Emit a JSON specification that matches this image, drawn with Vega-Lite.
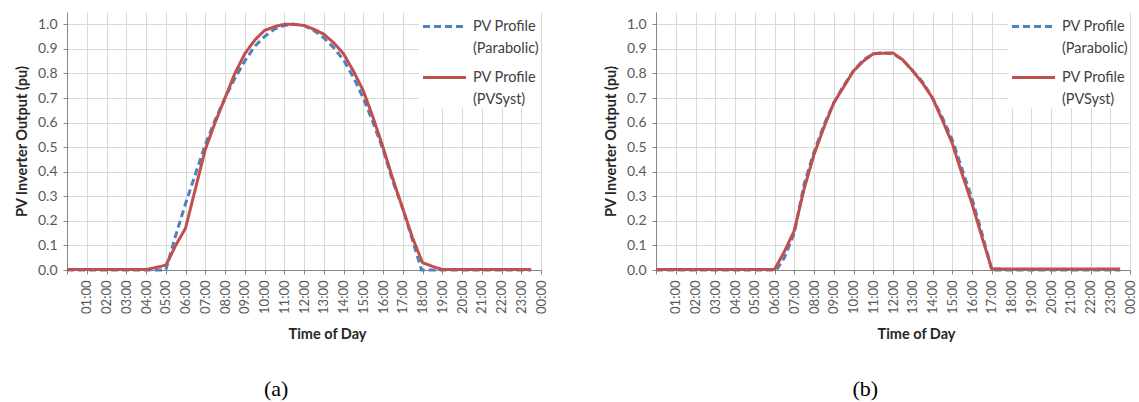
{
  "$schema": "https://vega.github.io/schema/vega-lite/v6.json",
  "background": "white",
  "padding": {"left": 14, "top": 12, "right": 3, "bottom": 3},
  "spacing": 54,
  "datasets": {
    "pv": [
      {"panel": "a", "series": "Parabolic", "hour": 0, "pu": 0},
      {"panel": "a", "series": "Parabolic", "hour": 1, "pu": 0},
      {"panel": "a", "series": "Parabolic", "hour": 2, "pu": 0},
      {"panel": "a", "series": "Parabolic", "hour": 3, "pu": 0},
      {"panel": "a", "series": "Parabolic", "hour": 4, "pu": 0},
      {"panel": "a", "series": "Parabolic", "hour": 5, "pu": 0},
      {"panel": "a", "series": "Parabolic", "hour": 5.5, "pu": 0.14},
      {"panel": "a", "series": "Parabolic", "hour": 6, "pu": 0.27},
      {"panel": "a", "series": "Parabolic", "hour": 6.5, "pu": 0.39},
      {"panel": "a", "series": "Parabolic", "hour": 7, "pu": 0.51},
      {"panel": "a", "series": "Parabolic", "hour": 7.5, "pu": 0.61},
      {"panel": "a", "series": "Parabolic", "hour": 8, "pu": 0.7},
      {"panel": "a", "series": "Parabolic", "hour": 8.5, "pu": 0.78},
      {"panel": "a", "series": "Parabolic", "hour": 9, "pu": 0.85},
      {"panel": "a", "series": "Parabolic", "hour": 9.5, "pu": 0.91},
      {"panel": "a", "series": "Parabolic", "hour": 10, "pu": 0.95},
      {"panel": "a", "series": "Parabolic", "hour": 10.5, "pu": 0.98},
      {"panel": "a", "series": "Parabolic", "hour": 11, "pu": 0.995},
      {"panel": "a", "series": "Parabolic", "hour": 11.5, "pu": 1.0},
      {"panel": "a", "series": "Parabolic", "hour": 12, "pu": 0.995},
      {"panel": "a", "series": "Parabolic", "hour": 12.5, "pu": 0.975},
      {"panel": "a", "series": "Parabolic", "hour": 13, "pu": 0.945},
      {"panel": "a", "series": "Parabolic", "hour": 13.5, "pu": 0.905},
      {"panel": "a", "series": "Parabolic", "hour": 14, "pu": 0.855},
      {"panel": "a", "series": "Parabolic", "hour": 14.5, "pu": 0.785},
      {"panel": "a", "series": "Parabolic", "hour": 15, "pu": 0.7},
      {"panel": "a", "series": "Parabolic", "hour": 15.5, "pu": 0.6},
      {"panel": "a", "series": "Parabolic", "hour": 16, "pu": 0.49},
      {"panel": "a", "series": "Parabolic", "hour": 16.5, "pu": 0.36},
      {"panel": "a", "series": "Parabolic", "hour": 17, "pu": 0.25},
      {"panel": "a", "series": "Parabolic", "hour": 17.5, "pu": 0.12},
      {"panel": "a", "series": "Parabolic", "hour": 17.95, "pu": 0},
      {"panel": "a", "series": "Parabolic", "hour": 19, "pu": 0},
      {"panel": "a", "series": "Parabolic", "hour": 20, "pu": 0},
      {"panel": "a", "series": "Parabolic", "hour": 21, "pu": 0},
      {"panel": "a", "series": "Parabolic", "hour": 22, "pu": 0},
      {"panel": "a", "series": "Parabolic", "hour": 23, "pu": 0},
      {"panel": "a", "series": "Parabolic", "hour": 23.5, "pu": 0},

      {"panel": "a", "series": "PVSyst", "hour": 0, "pu": 0.002},
      {"panel": "a", "series": "PVSyst", "hour": 1, "pu": 0.002},
      {"panel": "a", "series": "PVSyst", "hour": 2, "pu": 0.002},
      {"panel": "a", "series": "PVSyst", "hour": 3, "pu": 0.002},
      {"panel": "a", "series": "PVSyst", "hour": 4, "pu": 0.002},
      {"panel": "a", "series": "PVSyst", "hour": 4.5, "pu": 0.01},
      {"panel": "a", "series": "PVSyst", "hour": 5, "pu": 0.02},
      {"panel": "a", "series": "PVSyst", "hour": 5.17, "pu": 0.045},
      {"panel": "a", "series": "PVSyst", "hour": 5.5, "pu": 0.1},
      {"panel": "a", "series": "PVSyst", "hour": 6, "pu": 0.17},
      {"panel": "a", "series": "PVSyst", "hour": 6.5, "pu": 0.33},
      {"panel": "a", "series": "PVSyst", "hour": 7, "pu": 0.49},
      {"panel": "a", "series": "PVSyst", "hour": 7.5, "pu": 0.6},
      {"panel": "a", "series": "PVSyst", "hour": 8, "pu": 0.7},
      {"panel": "a", "series": "PVSyst", "hour": 8.5, "pu": 0.8},
      {"panel": "a", "series": "PVSyst", "hour": 9, "pu": 0.88},
      {"panel": "a", "series": "PVSyst", "hour": 9.5, "pu": 0.935},
      {"panel": "a", "series": "PVSyst", "hour": 10, "pu": 0.975},
      {"panel": "a", "series": "PVSyst", "hour": 10.5, "pu": 0.99},
      {"panel": "a", "series": "PVSyst", "hour": 11, "pu": 1.0},
      {"panel": "a", "series": "PVSyst", "hour": 11.5, "pu": 1.0},
      {"panel": "a", "series": "PVSyst", "hour": 12, "pu": 0.995},
      {"panel": "a", "series": "PVSyst", "hour": 12.5, "pu": 0.98},
      {"panel": "a", "series": "PVSyst", "hour": 13, "pu": 0.96},
      {"panel": "a", "series": "PVSyst", "hour": 13.5, "pu": 0.925},
      {"panel": "a", "series": "PVSyst", "hour": 14, "pu": 0.88},
      {"panel": "a", "series": "PVSyst", "hour": 14.5, "pu": 0.81},
      {"panel": "a", "series": "PVSyst", "hour": 15, "pu": 0.73},
      {"panel": "a", "series": "PVSyst", "hour": 15.5, "pu": 0.62},
      {"panel": "a", "series": "PVSyst", "hour": 16, "pu": 0.5},
      {"panel": "a", "series": "PVSyst", "hour": 16.5, "pu": 0.37},
      {"panel": "a", "series": "PVSyst", "hour": 17, "pu": 0.25},
      {"panel": "a", "series": "PVSyst", "hour": 17.5, "pu": 0.13},
      {"panel": "a", "series": "PVSyst", "hour": 18, "pu": 0.03},
      {"panel": "a", "series": "PVSyst", "hour": 18.5, "pu": 0.015},
      {"panel": "a", "series": "PVSyst", "hour": 19, "pu": 0.002},
      {"panel": "a", "series": "PVSyst", "hour": 20, "pu": 0.002},
      {"panel": "a", "series": "PVSyst", "hour": 21, "pu": 0.002},
      {"panel": "a", "series": "PVSyst", "hour": 22, "pu": 0.002},
      {"panel": "a", "series": "PVSyst", "hour": 23, "pu": 0.002},
      {"panel": "a", "series": "PVSyst", "hour": 23.5, "pu": 0.002},

      {"panel": "b", "series": "Parabolic", "hour": 0, "pu": 0},
      {"panel": "b", "series": "Parabolic", "hour": 1, "pu": 0},
      {"panel": "b", "series": "Parabolic", "hour": 2, "pu": 0},
      {"panel": "b", "series": "Parabolic", "hour": 3, "pu": 0},
      {"panel": "b", "series": "Parabolic", "hour": 4, "pu": 0},
      {"panel": "b", "series": "Parabolic", "hour": 5, "pu": 0},
      {"panel": "b", "series": "Parabolic", "hour": 6, "pu": 0},
      {"panel": "b", "series": "Parabolic", "hour": 6.1, "pu": 0},
      {"panel": "b", "series": "Parabolic", "hour": 6.5, "pu": 0.05},
      {"panel": "b", "series": "Parabolic", "hour": 7, "pu": 0.15},
      {"panel": "b", "series": "Parabolic", "hour": 7.5, "pu": 0.35},
      {"panel": "b", "series": "Parabolic", "hour": 8, "pu": 0.48},
      {"panel": "b", "series": "Parabolic", "hour": 8.5, "pu": 0.59},
      {"panel": "b", "series": "Parabolic", "hour": 9, "pu": 0.68},
      {"panel": "b", "series": "Parabolic", "hour": 9.5, "pu": 0.75},
      {"panel": "b", "series": "Parabolic", "hour": 10, "pu": 0.81},
      {"panel": "b", "series": "Parabolic", "hour": 10.5, "pu": 0.855},
      {"panel": "b", "series": "Parabolic", "hour": 11, "pu": 0.88},
      {"panel": "b", "series": "Parabolic", "hour": 11.5, "pu": 0.885},
      {"panel": "b", "series": "Parabolic", "hour": 12, "pu": 0.88},
      {"panel": "b", "series": "Parabolic", "hour": 12.5, "pu": 0.855},
      {"panel": "b", "series": "Parabolic", "hour": 13, "pu": 0.81},
      {"panel": "b", "series": "Parabolic", "hour": 13.5, "pu": 0.765},
      {"panel": "b", "series": "Parabolic", "hour": 14, "pu": 0.7},
      {"panel": "b", "series": "Parabolic", "hour": 14.5, "pu": 0.62},
      {"panel": "b", "series": "Parabolic", "hour": 15, "pu": 0.53},
      {"panel": "b", "series": "Parabolic", "hour": 15.5, "pu": 0.41},
      {"panel": "b", "series": "Parabolic", "hour": 16, "pu": 0.29},
      {"panel": "b", "series": "Parabolic", "hour": 16.5, "pu": 0.15},
      {"panel": "b", "series": "Parabolic", "hour": 17, "pu": 0},
      {"panel": "b", "series": "Parabolic", "hour": 18, "pu": 0},
      {"panel": "b", "series": "Parabolic", "hour": 19, "pu": 0},
      {"panel": "b", "series": "Parabolic", "hour": 20, "pu": 0},
      {"panel": "b", "series": "Parabolic", "hour": 21, "pu": 0},
      {"panel": "b", "series": "Parabolic", "hour": 22, "pu": 0},
      {"panel": "b", "series": "Parabolic", "hour": 23, "pu": 0},
      {"panel": "b", "series": "Parabolic", "hour": 23.5, "pu": 0},

      {"panel": "b", "series": "PVSyst", "hour": 0, "pu": 0.002},
      {"panel": "b", "series": "PVSyst", "hour": 1, "pu": 0.002},
      {"panel": "b", "series": "PVSyst", "hour": 2, "pu": 0.002},
      {"panel": "b", "series": "PVSyst", "hour": 3, "pu": 0.002},
      {"panel": "b", "series": "PVSyst", "hour": 4, "pu": 0.002},
      {"panel": "b", "series": "PVSyst", "hour": 5, "pu": 0.002},
      {"panel": "b", "series": "PVSyst", "hour": 6, "pu": 0.002},
      {"panel": "b", "series": "PVSyst", "hour": 6.5, "pu": 0.075},
      {"panel": "b", "series": "PVSyst", "hour": 7, "pu": 0.16},
      {"panel": "b", "series": "PVSyst", "hour": 7.5, "pu": 0.33},
      {"panel": "b", "series": "PVSyst", "hour": 8, "pu": 0.47},
      {"panel": "b", "series": "PVSyst", "hour": 8.5, "pu": 0.58},
      {"panel": "b", "series": "PVSyst", "hour": 9, "pu": 0.68},
      {"panel": "b", "series": "PVSyst", "hour": 9.5, "pu": 0.745},
      {"panel": "b", "series": "PVSyst", "hour": 10, "pu": 0.81},
      {"panel": "b", "series": "PVSyst", "hour": 10.5, "pu": 0.85},
      {"panel": "b", "series": "PVSyst", "hour": 11, "pu": 0.88},
      {"panel": "b", "series": "PVSyst", "hour": 11.5, "pu": 0.882},
      {"panel": "b", "series": "PVSyst", "hour": 12, "pu": 0.883},
      {"panel": "b", "series": "PVSyst", "hour": 12.5, "pu": 0.855},
      {"panel": "b", "series": "PVSyst", "hour": 13, "pu": 0.81},
      {"panel": "b", "series": "PVSyst", "hour": 13.5, "pu": 0.76},
      {"panel": "b", "series": "PVSyst", "hour": 14, "pu": 0.7},
      {"panel": "b", "series": "PVSyst", "hour": 14.5, "pu": 0.61},
      {"panel": "b", "series": "PVSyst", "hour": 15, "pu": 0.515},
      {"panel": "b", "series": "PVSyst", "hour": 15.5, "pu": 0.39},
      {"panel": "b", "series": "PVSyst", "hour": 16, "pu": 0.27},
      {"panel": "b", "series": "PVSyst", "hour": 16.5, "pu": 0.135},
      {"panel": "b", "series": "PVSyst", "hour": 17, "pu": 0.005},
      {"panel": "b", "series": "PVSyst", "hour": 18, "pu": 0.004},
      {"panel": "b", "series": "PVSyst", "hour": 19, "pu": 0.004},
      {"panel": "b", "series": "PVSyst", "hour": 20, "pu": 0.004},
      {"panel": "b", "series": "PVSyst", "hour": 21, "pu": 0.004},
      {"panel": "b", "series": "PVSyst", "hour": 22, "pu": 0.004},
      {"panel": "b", "series": "PVSyst", "hour": 23, "pu": 0.004},
      {"panel": "b", "series": "PVSyst", "hour": 23.5, "pu": 0.004}
    ]
  },
  "config": {
    "font": "Lato",
    "view": {"stroke": null},
    "style": {"guide-label": {"lineHeight": 22}},
    "axis": {
      "labelFont": "Lato",
      "labelColor": "#595959",
      "titleFont": "Lato",
      "titleColor": "#262626",
      "titleFontWeight": "bold",
      "titleFontSize": 14.5,
      "gridColor": "#D9D9D9",
      "gridWidth": 1,
      "domainColor": "#868686",
      "tickColor": "#868686",
      "tickSize": 4
    },
    "legend": {
      "orient": "top-right",
      "offset": 0,
      "fillColor": "white",
      "padding": 2,
      "symbolType": "M-2,0H2",
      "symbolSize": 462,
      "symbolStrokeWidth": 3,
      "symbolOffset": 11,
      "labelFont": "Lato",
      "labelFontSize": 14.5,
      "labelColor": "#404040",
      "labelOffset": 16,
      "labelLimit": 200,
      "labelBaseline": "middle",
      "rowPadding": 10
    },
    "title": {
      "font": "Liberation Serif",
      "fontSize": 22,
      "fontWeight": "normal",
      "color": "black",
      "orient": "bottom",
      "anchor": "middle",
      "frame": "bounds",
      "offset": 38,
      "dx": -5
    }
  },
  "resolve": {
    "scale": {"color": "independent", "strokeDash": "independent"},
    "legend": {"color": "independent", "strokeDash": "independent"}
  },
  "hconcat": [
    {
      "width": 474,
      "height": 258,
      "title": {"text": "(a)"},
      "data": {"name": "pv"},
      "transform": [{"filter": "datum.panel == 'a'"}],
      "encoding": {
        "x": {
          "field": "hour", "type": "quantitative",
          "scale": {"domain": [0, 24], "nice": false, "zero": false},
          "axis": {
            "title": "Time of Day", "titleX": 260, "titlePadding": 14,
            "values": [0,1,2,3,4,5,6,7,8,9,10,11,12,13,14,15,16,17,18,19,20,21,22,23,24],
            "labelAngle": 270, "labelFontSize": 13, "labelPadding": 6,
            "labelExpr": "datum.value == 0 ? '' : ((datum.value % 24) < 10 ? '0' : '') + (datum.value % 24) + ':00'"
          }
        },
        "y": {
          "field": "pu", "type": "quantitative",
          "scale": {"domain": [0, 1.05], "nice": false},
          "axis": {
            "title": "PV Inverter Output (pu)", "titlePadding": 8,
            "values": [0,0.1,0.2,0.3,0.4,0.5,0.6,0.7,0.8,0.9,1.0],
            "format": ".1f", "labelFontSize": 14, "labelPadding": 6
          }
        },
        "color": {
          "field": "series", "type": "nominal",
          "scale": {"domain": ["Parabolic", "PVSyst"], "range": ["#4F81BD", "#C0504D"]},
          "legend": {"title": null, "labelExpr": "['PV Profile', '(' + datum.label + ')']"}
        },
        "strokeDash": {
          "field": "series", "type": "nominal",
          "scale": {"domain": ["Parabolic", "PVSyst"], "range": [[7, 4], [1, 0]]},
          "legend": {"title": null, "labelExpr": "['PV Profile', '(' + datum.label + ')']"}
        }
      },
      "layer": [
        {"transform": [{"filter": "datum.series == 'Parabolic'"}], "mark": {"type": "line", "strokeWidth": 3}},
        {"transform": [{"filter": "datum.series == 'PVSyst'"}], "mark": {"type": "line", "strokeWidth": 3}}
      ]
    },
    {
      "width": 474,
      "height": 258,
      "title": {"text": "(b)"},
      "data": {"name": "pv"},
      "transform": [{"filter": "datum.panel == 'b'"}],
      "encoding": {
        "x": {
          "field": "hour", "type": "quantitative",
          "scale": {"domain": [0, 24], "nice": false, "zero": false},
          "axis": {
            "title": "Time of Day", "titleX": 260, "titlePadding": 14,
            "values": [0,1,2,3,4,5,6,7,8,9,10,11,12,13,14,15,16,17,18,19,20,21,22,23,24],
            "labelAngle": 270, "labelFontSize": 13, "labelPadding": 6,
            "labelExpr": "datum.value == 0 ? '' : ((datum.value % 24) < 10 ? '0' : '') + (datum.value % 24) + ':00'"
          }
        },
        "y": {
          "field": "pu", "type": "quantitative",
          "scale": {"domain": [0, 1.05], "nice": false},
          "axis": {
            "title": "PV Inverter Output (pu)", "titlePadding": 8,
            "values": [0,0.1,0.2,0.3,0.4,0.5,0.6,0.7,0.8,0.9,1.0],
            "format": ".1f", "labelFontSize": 14, "labelPadding": 6
          }
        },
        "color": {
          "field": "series", "type": "nominal",
          "scale": {"domain": ["Parabolic", "PVSyst"], "range": ["#4F81BD", "#C0504D"]},
          "legend": {"title": null, "labelExpr": "['PV Profile', '(' + datum.label + ')']"}
        },
        "strokeDash": {
          "field": "series", "type": "nominal",
          "scale": {"domain": ["Parabolic", "PVSyst"], "range": [[7, 4], [1, 0]]},
          "legend": {"title": null, "labelExpr": "['PV Profile', '(' + datum.label + ')']"}
        }
      },
      "layer": [
        {"transform": [{"filter": "datum.series == 'Parabolic'"}], "mark": {"type": "line", "strokeWidth": 3}},
        {"transform": [{"filter": "datum.series == 'PVSyst'"}], "mark": {"type": "line", "strokeWidth": 3}}
      ]
    }
  ]
}
